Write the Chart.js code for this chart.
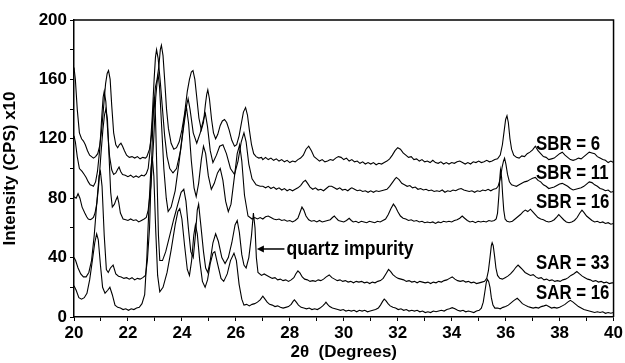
<!DOCTYPE html>
<html>
<head>
<meta charset="utf-8">
<script src="https://cdn.jsdelivr.net/npm/chart.js@4.4.1/dist/chart.umd.min.js"></script>
<style>
  html, body { margin: 0; padding: 0; background: #fff; }
  #wrap { width: 625px; height: 363px; position: relative; }
</style>
</head>
<body>
<div id="wrap"><canvas id="xrdChart"></canvas></div>
<script>
// 2theta (deg), intensity (CPS x10)
var sbr6 = [[20.0,168],[20.05,160],[20.12,140],[20.2,124],[20.28,120],[20.35,118.5],[20.42,116],[20.5,112],[20.58,109],[20.65,108],[20.72,107],[20.8,108],[20.88,110],[20.95,115],[21.02,125],[21.1,142],[21.17,157],[21.23,164],[21.28,166],[21.34,160],[21.4,142],[21.47,124],[21.55,116],[21.62,114],[21.68,116],[21.74,117],[21.8,115],[21.87,112],[21.95,109],[22.05,107.5],[22.15,108],[22.25,107],[22.35,108],[22.45,106.5],[22.55,107.5],[22.65,107],[22.7,108],
  [22.8,113],[22.87,122],[22.95,140],[23.02,155],[23.08,160],[23.14,168],[23.2,180],[23.24,183],[23.3,176],[23.36,160],[23.43,140],[23.5,127],[23.6,117],[23.7,113],[23.8,114],[23.9,118],[24.0,126],[24.1,137],[24.2,152],[24.28,160],[24.35,165],[24.41,166],[24.48,160],[24.55,148],[24.63,134],[24.72,126],[24.8,131],[24.87,143],[24.92,150],[24.96,153],[25.02,147],[25.1,133],[25.17,124],[25.25,120],[25.33,123],[25.42,129],[25.5,132],[25.58,133],[25.66,131],[25.75,126],[25.85,119],[25.95,115],[26.03,116],[26.12,122],[26.2,130],[26.28,138],[26.36,141],[26.43,136],[26.5,126],[26.58,116],[26.66,110],[26.75,108],[26.85,107],[26.95,107.5],
  [27.0,106],[27.1,107.5],[27.2,106],[27.3,107],[27.4,105.5],[27.5,106.5],[27.6,105],[27.7,106],[27.8,104.5],[27.9,105.5],[28.0,104],[28.1,105],[28.2,104.5],[28.3,106],[28.4,107],[28.5,109],[28.6,113],[28.7,115],[28.8,112],[28.9,108],[29.0,106.5],[29.1,105],[29.2,106],[29.3,104.5],[29.4,105],[29.5,106],[29.6,105.5],[29.7,107],[29.8,108],[29.9,107.5],[30.0,106],[30.1,107],[30.2,105],[30.3,106],[30.4,104.5],[30.5,105],[30.6,103.5],[30.7,104.5],[30.8,103],[30.9,104],[31.0,103],[31.1,104],[31.2,102.5],[31.3,103.5],[31.4,103],[31.5,104],[31.6,105],[31.7,106.5],[31.8,109],[31.9,112],[32.0,114],[32.1,113],[32.2,110.5],[32.3,109],[32.4,107.5],[32.5,108],[32.6,106],[32.7,106.5],[32.8,105],[32.9,106],[33.0,104.5],[33.1,105],[33.2,104],[33.3,105.5],[33.4,104],[33.5,103.5],[33.6,104.5],[33.7,103],[33.8,104],[33.9,103],[34.0,104],[34.1,103.5],[34.2,104.5],[34.3,105],[34.4,104],[34.5,103],[34.6,104],[34.7,103],[34.8,104.5],[34.9,104],[35.0,105],[35.1,104],[35.2,104.5],[35.3,105.5],[35.4,104.5],[35.5,105],[35.6,106],[35.7,106.5],
  [35.8,109],[35.88,116],[35.95,126],[36.0,133],[36.05,135.5],[36.1,131],[36.16,120],[36.22,113],[36.3,109],[36.4,107.5],[36.5,107],[36.6,108.5],[36.7,108],[36.8,110],[36.9,111],[37.0,112.5],[37.1,115],[37.2,112],[37.3,110],[37.4,108],[37.5,107.5],[37.6,106],[37.7,106.5],[37.8,107],[37.9,108.5],[38.0,110],[38.1,111],[38.2,109],[38.3,107.5],[38.4,106],[38.5,105.5],[38.6,106],[38.7,107],[38.8,106.5],[38.9,108],[39.0,109.5],[39.1,111],[39.2,110.5],[39.3,110],[39.4,108],[39.5,107],[39.6,106],[39.7,105.5],[39.8,104],[39.9,105],[40.0,104]];

var sbr11 = [[20.0,122],[20.05,118],[20.12,108],[20.2,100],[20.3,98],[20.38,96],[20.45,94],[20.53,91],[20.6,89],[20.67,88.5],[20.72,88],[20.8,91],[20.87,98],[20.95,112],[21.03,135],[21.08,148],[21.12,152],[21.18,145],[21.25,125],[21.32,108],[21.4,99],[21.47,96],[21.55,97],[21.62,99.5],[21.67,101],[21.73,98],[21.8,96],[21.9,95.5],[22.0,94.5],[22.1,95.5],[22.2,94],[22.3,95],[22.4,94],[22.5,95.5],[22.6,95],[22.68,96.5],
  [22.75,100],[22.82,112],[22.9,135],[22.97,160],[23.02,175],[23.06,180],[23.12,174],[23.2,158],[23.28,140],[23.36,122],[23.45,108],[23.55,100],[23.67,97],[23.8,100],[23.95,112],[24.08,130],[24.18,143],[24.23,147],[24.3,140],[24.42,124],[24.55,117],[24.68,124],[24.8,133],[24.87,137],[24.95,128],[25.05,112],[25.15,104],[25.28,109],[25.4,115],[25.52,116],[25.65,110],[25.8,100],[25.95,96],[26.08,105],[26.2,118],[26.3,124],[26.38,118],[26.48,103],[26.6,93],[26.75,89],[26.9,88],
  [27.0,88],[27.1,87],[27.2,88],[27.3,86.5],[27.4,87.5],[27.5,86],[27.6,87],[27.7,85.5],[27.8,86.5],[27.9,85],[28.0,86],[28.1,85],[28.2,86],[28.3,87],[28.4,88.5],[28.5,91],[28.58,92],[28.66,90],[28.75,87.5],[28.85,86],[28.95,87],[29.05,85.5],[29.15,86],[29.25,85],[29.35,86.5],[29.45,88],[29.55,88],[29.65,87],[29.75,86],[29.85,87],[29.95,85.5],[30.05,86],[30.15,85],[30.25,86.5],[30.3,87],[30.4,86],[30.5,85],[30.6,85.5],[30.7,84.5],[30.8,85],[30.9,84],[31.0,85],[31.1,84],[31.2,85],[31.3,84.5],[31.4,85],[31.5,85.5],[31.6,86],[31.7,88],[31.8,90.5],[31.9,93],[31.95,94],[32.05,92.5],[32.15,90],[32.25,89],[32.35,88],[32.45,88.5],[32.55,87],[32.65,87.5],[32.75,86],[32.85,86.5],[32.95,85.5],[33.05,86],[33.15,85],[33.25,85.5],[33.35,84.5],[33.45,85],[33.55,84.5],[33.65,85.5],[33.75,84],[33.85,85],[33.95,84.5],[34.05,85.5],[34.15,85],[34.25,86],[34.35,86.5],[34.45,85.5],[34.55,85],[34.65,84.5],[34.75,85],[34.85,84],[34.95,85],[35.05,84.5],[35.15,85.5],[35.25,85],[35.35,86],[35.45,85],[35.55,86],[35.65,86.5],[35.72,88],
  [35.8,93],[35.87,101],[35.92,105],[35.96,107],[36.01,103],[36.07,96],[36.14,91],[36.22,89],[36.3,88.5],[36.4,88],[36.5,89],[36.6,90],[36.7,91],[36.8,91.5],[36.9,92.5],[37.0,93.5],[37.1,94],[37.2,92],[37.3,91],[37.4,89],[37.5,88],[37.6,86.5],[37.7,87],[37.8,87.5],[37.9,88.5],[38.0,89.5],[38.1,90],[38.2,89],[38.3,88],[38.4,86.5],[38.5,85.5],[38.6,86],[38.7,86.5],[38.8,87],[38.9,88],[39.0,89.5],[39.1,91],[39.2,90.5],[39.3,89],[39.4,88],[39.5,86.5],[39.6,86],[39.7,85],[39.8,85.5],[39.9,84],[40.0,84.5]];

var sbr16 = [[20.0,81],[20.08,80],[20.15,83],[20.22,80],[20.3,74],[20.4,70],[20.47,67.5],[20.53,66],[20.6,65.5],[20.65,66],[20.72,67],[20.78,70],[20.85,77],[20.92,90],[21.0,110],[21.07,126],[21.13,136],[21.18,140],[21.24,133],[21.3,108],[21.36,84],[21.42,74],[21.5,76],[21.56,79],[21.61,81],[21.66,77],[21.72,70],[21.82,66],[21.92,65.5],[22.0,65],[22.1,66],[22.2,65],[22.3,65.5],[22.4,64],[22.5,65],[22.6,66],[22.68,67],
  [22.75,72],[22.85,88],[22.95,118],[23.03,148],[23.09,160],[23.12,163],[23.17,155],[23.25,128],[23.33,100],[23.42,80],[23.49,71],[23.6,74],[23.75,85],[23.9,105],[24.05,128],[24.12,138],[24.17,141],[24.25,130],[24.35,105],[24.45,87],[24.53,81],[24.62,90],[24.72,106],[24.8,115],[24.88,110],[24.98,95],[25.09,86],[25.2,90],[25.32,97],[25.42,100],[25.52,92],[25.62,78],[25.72,71],[25.82,76],[25.95,95],[26.05,110],[26.14,116],[26.22,105],[26.32,82],[26.45,68],
  [26.6,66],[26.7,67],[26.8,66],[26.9,67],[27.0,66],[27.1,67.5],[27.2,68],[27.3,67],[27.4,66],[27.5,65.5],[27.6,66],[27.7,65],[27.8,65.5],[27.9,64.5],[28.0,65],[28.1,64],[28.2,65],[28.3,66.5],[28.37,70],[28.45,74],[28.52,72],[28.6,68],[28.7,65.5],[28.8,64.5],[28.9,65],[29.0,64],[29.1,65],[29.2,64],[29.3,64.5],[29.4,65],[29.5,65.5],[29.58,67],[29.65,68],[29.72,66.5],[29.8,65],[29.9,64.5],[30.0,64],[30.1,65],[30.2,66.5],[30.28,65],[30.35,64],[30.45,64.5],[30.55,63.5],[30.65,64.5],[30.75,64],[30.85,63.5],[30.95,64.5],[31.05,64],[31.15,63.5],[31.25,64.5],[31.35,64],[31.45,65],[31.55,66],[31.65,69],[31.75,73],[31.84,76],[31.92,74],[32.0,71],[32.1,68],[32.2,66.5],[32.3,66],[32.4,65],[32.5,65.5],[32.6,64.5],[32.7,65],[32.8,64],[32.9,64.5],[33.0,63.5],[33.1,64],[33.2,63.5],[33.3,64],[33.4,63],[33.5,64],[33.6,63.5],[33.7,64.5],[33.8,64],[33.9,64.5],[34.0,64],[34.1,65],[34.2,65.5],[34.3,66.5],[34.39,68],[34.48,66.5],[34.58,65],[34.68,64],[34.78,64.5],[34.88,63.5],[34.98,64.5],[35.08,64],[35.18,64.5],[35.28,64],[35.38,65],[35.48,64.5],[35.58,65],[35.65,66],
  [35.7,70],[35.75,82],[35.79,95],[35.81,99],[35.85,94],[35.89,82],[35.93,72],[35.98,66],[36.05,64.5],[36.15,64],[36.25,64.5],[36.35,66],[36.45,67.5],[36.55,69],[36.65,71],[36.73,72],[36.82,71],[36.92,72.6],[37.0,71],[37.1,69],[37.2,67],[37.3,66],[37.4,65.5],[37.5,64.5],[37.6,64],[37.7,64.5],[37.8,65.5],[37.9,67.5],[37.97,69],[38.05,67.5],[38.15,65.5],[38.25,64],[38.35,63.5],[38.45,64],[38.55,65],[38.65,67],[38.75,70],[38.83,72],[38.9,70.5],[39.0,68],[39.1,66.5],[39.2,65],[39.3,64],[39.4,64.5],[39.5,63.5],[39.6,64],[39.7,63],[39.8,63.5],[39.9,62.5],[40.0,63]];

var sar33 = [[20.0,40],[20.06,38],[20.15,33],[20.25,29],[20.35,27],[20.45,27],[20.55,30],[20.65,38],[20.75,55],[20.85,78],[20.93,95],[20.98,98],[21.04,88],[21.12,55],[21.2,32],[21.27,30],[21.35,33],[21.45,35],[21.55,29],[21.65,27.5],[21.75,27],[21.85,26],[21.95,26.5],[22.05,25.5],[22.15,26.5],[22.25,25],[22.35,26],[22.45,25.5],[22.55,26.5],[22.65,28],
  [22.72,38],[22.8,60],[22.87,100],[22.93,135],[22.97,148],[23.02,135],[23.07,100],[23.13,55],[23.18,38],[23.28,38],[23.4,44],[23.55,55],[23.7,66],[23.85,76],[23.97,84],[24.07,86],[24.15,78],[24.25,58],[24.33,44],[24.42,40],[24.5,55],[24.57,72],[24.62,76],[24.7,62],[24.8,44],[24.88,33],[24.96,30],[25.05,38],[25.15,50],[25.25,56],[25.35,51],[25.48,40],[25.6,36],[25.72,40],[25.85,50],[25.97,62],[26.05,65],[26.13,57],[26.22,42],[26.3,35],[26.38,33],[26.48,40],[26.58,55],[26.65,70],[26.71,60],[26.76,40],[26.82,30],
  [26.95,28],[27.05,29],[27.15,28],[27.25,27],[27.35,26],[27.45,26.5],[27.55,25],[27.65,25.5],[27.75,24.5],[27.85,25],[27.95,24],[28.05,25],[28.15,26.5],[28.22,29],[28.3,31],[28.38,29.5],[28.46,27],[28.55,25.5],[28.65,25],[28.75,24],[28.85,24.5],[28.95,24],[29.05,25],[29.15,24.5],[29.25,25.5],[29.35,27],[29.46,28.3],[29.56,26.5],[29.66,25.5],[29.76,24.5],[29.86,25],[29.96,24],[30.06,24.5],[30.16,23.5],[30.26,24],[30.36,23],[30.46,24],[30.56,23.5],[30.66,24],[30.76,23],[30.86,23.5],[30.96,22.5],[31.06,23.5],[31.16,23],[31.26,24],[31.36,24.5],[31.46,26],[31.56,29],[31.66,32],[31.74,30.5],[31.82,28.5],[31.92,27],[32.02,26],[32.12,25.5],[32.22,25],[32.32,24],[32.42,24.5],[32.52,23.5],[32.62,24],[32.72,23],[32.82,24],[32.92,23.5],[33.02,23],[33.12,23.5],[33.22,22.5],[33.32,23.5],[33.42,23],[33.52,24],[33.62,23.5],[33.72,24.5],[33.82,25],[33.92,26],[34.02,27],[34.12,25.5],[34.22,24.5],[34.32,24],[34.42,24.5],[34.52,23.5],[34.62,24],[34.72,23],[34.82,23.5],[34.92,22.5],[35.02,23],[35.12,23.5],[35.22,24],
  [35.3,26],[35.36,31],[35.42,40],[35.47,48],[35.5,50],[35.54,48],[35.59,41],[35.64,33],[35.7,28],[35.78,26],[35.88,25.5],[35.98,26.5],[36.08,27.5],[36.18,29],[36.28,31],[36.38,33.5],[36.46,35],[36.54,33.5],[36.62,32],[36.72,30],[36.82,29],[36.92,28],[37.02,28.5],[37.12,27],[37.22,26],[37.32,26.5],[37.42,25],[37.52,25.5],[37.62,24.5],[37.72,25],[37.82,24],[37.92,24.5],[38.02,24],[38.12,25],[38.22,25.5],[38.32,26.5],[38.42,28],[38.52,29],[38.64,30.6],[38.74,29],[38.84,27.5],[38.94,26.5],[39.04,25.5],[39.14,25],[39.24,24],[39.34,24.5],[39.44,23.5],[39.54,24],[39.64,23],[39.74,23.5],[39.84,22.5],[39.94,23],[40.0,23]];

var sar16 = [[20.0,21],[20.08,18],[20.18,13],[20.28,12],[20.38,13],[20.48,16],[20.58,25],[20.68,38],[20.77,50],[20.84,56],[20.9,52],[20.98,35],[21.06,20],[21.15,16],[21.25,18],[21.33,20],[21.42,15],[21.52,8],[21.62,6.5],[21.72,6],[21.82,5],[21.92,5.5],[22.02,4.5],[22.12,5.5],[22.22,5],[22.32,6],[22.42,6.5],[22.52,9],
  [22.62,15],[22.7,40],[22.78,75],[22.85,100],[22.9,108],[22.96,95],[23.03,58],[23.1,28],[23.18,17],[23.3,20],[23.45,30],[23.6,45],[23.75,62],[23.85,71],[23.92,73],[24.0,66],[24.1,48],[24.2,32],[24.28,28],[24.36,38],[24.44,55],[24.5,62],[24.57,56],[24.66,38],[24.76,24],[24.86,20],[24.95,25],[25.05,36],[25.15,43],[25.22,44],[25.32,36],[25.45,26],[25.55,24],[25.68,29],[25.8,38],[25.93,43],[26.02,38],[26.12,22],[26.22,12],
  [26.3,8],[26.4,8.5],[26.5,7.5],[26.6,8.5],[26.7,9],[26.8,10],[26.9,11.5],[27.0,14],[27.08,12],[27.16,10],[27.25,8.5],[27.35,8],[27.45,7],[27.55,7.5],[27.65,6.5],[27.75,6],[27.85,6.5],[27.95,7],[28.05,8.5],[28.12,10.5],[28.17,11.5],[28.24,10],[28.32,8],[28.42,6.5],[28.52,6],[28.62,5.5],[28.72,6],[28.82,5],[28.92,5.5],[29.02,5],[29.12,6],[29.22,7.5],[29.3,9],[29.34,10],[29.4,8.5],[29.48,7],[29.58,6],[29.68,5.5],[29.78,5],[29.88,4.5],[29.98,5],[30.08,4],[30.18,4.5],[30.28,4],[30.38,4.5],[30.48,3.5],[30.58,4.5],[30.68,4],[30.78,4.5],[30.88,3.5],[30.98,4],[31.08,4.5],[31.18,5],[31.28,6],[31.36,8],[31.44,10.5],[31.5,12],[31.56,11],[31.64,9],[31.72,7.5],[31.82,6.5],[31.92,6],[32.02,5],[32.12,5.5],[32.22,4.5],[32.32,5],[32.42,4],[32.52,4.5],[32.62,4],[32.72,4.5],[32.82,3.5],[32.92,4],[33.02,3],[33.12,3.5],[33.22,3],[33.32,4],[33.42,3.5],[33.52,4],[33.62,4.5],[33.72,4],[33.82,5],[33.92,5.5],[34.02,6.3],[34.12,5.5],[34.22,4.5],[34.32,4],[34.42,4.5],[34.52,3.5],[34.62,4],[34.72,3.5],[34.82,3],[34.92,4],[35.02,4.5],
  [35.1,6],[35.17,10],[35.23,17],[35.28,23],[35.32,25.4],[35.37,24],[35.42,20],[35.47,13],[35.53,8],[35.6,6],[35.7,6],[35.8,5.5],[35.9,6.5],[36.0,7],[36.1,8],[36.2,9.5],[36.3,11],[36.43,12.6],[36.52,11],[36.62,9],[36.72,8],[36.82,7],[36.92,6.5],[37.02,6],[37.12,6.5],[37.22,6],[37.32,7],[37.42,7.5],[37.5,8],[37.6,7],[37.7,6],[37.8,6.5],[37.9,6],[38.0,6.5],[38.1,7.5],[38.2,8.5],[38.3,10],[38.4,11.2],[38.5,10],[38.6,8.5],[38.7,7],[38.8,6],[38.9,5],[39.0,4.5],[39.1,4],[39.2,3.5],[39.3,3],[39.4,3.5],[39.5,3],[39.6,3.5],[39.7,2.5],[39.8,3],[39.9,2.5],[40.0,3]];

var seriesNames = ['SBR = 6', 'SBR = 11', 'SBR = 16', 'SAR = 33', 'SAR = 16'];
var seriesData = [sbr6, sbr11, sbr16, sar33, sar16];

var FONT = '"Liberation Sans", Arial, sans-serif';

// where the text labels sit (data units)
var labelSpots = [
    { x: 37.13, y: 116 },
    { x: 37.13, y: 96.5 },
    { x: 37.13, y: 77 },
    { x: 37.13, y: 36 },
    { x: 37.13, y: 15.5 }
];
var quartzNote = { text: 'quartz impurity', fromX: 27.8, toX: 26.78, y: 45.8 };

function toXY(list) {
    return list.map(function (p) { return { x: p[0], y: p[1] }; });
}

// narrow text, like a condensed face
function narrowText(ctx, text, x, y, squeeze) {
    ctx.save();
    ctx.translate(x, y);
    ctx.scale(squeeze, 1);
    ctx.fillText(text, 0, 0);
    ctx.restore();
}

var annotatePlugin = {
    id: 'annotate',
    afterDraw: function (chart) {
        var ctx = chart.ctx;
        var xs = chart.scales.x;
        var ys = chart.scales.y;
        var area = chart.chartArea;

        ctx.save();
        ctx.strokeStyle = '#000';
        ctx.lineWidth = 1.5;
        ctx.beginPath();
        ctx.moveTo(area.left, area.top);
        ctx.lineTo(area.right, area.top);
        ctx.lineTo(area.right, area.bottom);
        ctx.stroke();

        ctx.fillStyle = '#000';
        ctx.font = 'bold 20px ' + FONT;
        ctx.textAlign = 'left';
        ctx.textBaseline = 'middle';
        seriesNames.forEach(function (name, i) {
            var s = labelSpots[i];
            narrowText(ctx, name, xs.getPixelForValue(s.x), ys.getPixelForValue(s.y), 0.84);
        });

        var x0 = xs.getPixelForValue(quartzNote.fromX);
        var x1 = xs.getPixelForValue(quartzNote.toX);
        var yy = ys.getPixelForValue(quartzNote.y);
        ctx.lineWidth = 1.5;
        ctx.beginPath();
        ctx.moveTo(x0, yy);
        ctx.lineTo(x1 + 4, yy);
        ctx.stroke();
        ctx.beginPath();
        ctx.moveTo(x1, yy);
        ctx.lineTo(x1 + 7, yy - 3.5);
        ctx.lineTo(x1 + 7, yy + 3.5);
        ctx.closePath();
        ctx.fill();
        narrowText(ctx, quartzNote.text, x0 + 2, yy, 0.88);
        ctx.restore();
    }
};

document.addEventListener('DOMContentLoaded', function () {
    var ctx = document.getElementById('xrdChart');
    new Chart(ctx, {
        type: 'line',
        data: {
            datasets: seriesData.map(function (d, i) {
                return {
                    label: seriesNames[i],
                    data: toXY(d),
                    borderColor: '#000',
                    borderWidth: 1.1,
                    pointRadius: 0,
                    tension: 0,
                    fill: false
                };
            })
        },
        options: {
            responsive: true,
            maintainAspectRatio: false,
            animation: false,
            layout: { padding: { top: 20, right: 10, left: 0, bottom: 0 } },
            plugins: {
                legend: { display: false },
                tooltip: { enabled: false }
            },
            scales: {
                x: {
                    type: 'linear',
                    min: 20,
                    max: 40,
                    afterFit: function (scale) { scale.height = 46; },
                    border: { display: true, color: '#000', width: 1.5 },
                    grid: { drawOnChartArea: false, tickLength: 4, color: '#000' },
                    ticks: {
                        stepSize: 1,
                        autoSkip: false,
                        maxRotation: 0,
                        padding: 2,
                        color: '#000',
                        font: { family: FONT, size: 17, weight: 'bold' },
                        callback: function (v) { return v % 2 === 0 ? v : ''; }
                    },
                    title: {
                        display: true,
                        text: '2\u03b8  (Degrees)',
                        color: '#000',
                        padding: { top: 0, bottom: 0 },
                        font: { family: FONT, size: 17, weight: 'bold' }
                    }
                },
                y: {
                    min: 0,
                    max: 200,
                    afterFit: function (scale) { scale.width = 74; },
                    border: { display: true, color: '#000', width: 1.5 },
                    grid: { drawOnChartArea: false, tickLength: 4, color: '#000' },
                    ticks: {
                        stepSize: 20,
                        padding: 3,
                        color: '#000',
                        font: { family: FONT, size: 17, weight: 'bold' },
                        callback: function (v) { return v % 40 === 0 ? v : ''; }
                    },
                    title: {
                        display: true,
                        text: 'Intensity (CPS) x10',
                        color: '#000',
                        padding: { top: 0, bottom: 0 },
                        font: { family: FONT, size: 17, weight: 'bold' }
                    }
                }
            }
        },
        plugins: [annotatePlugin]
    });
});
</script>
</body>
</html>
